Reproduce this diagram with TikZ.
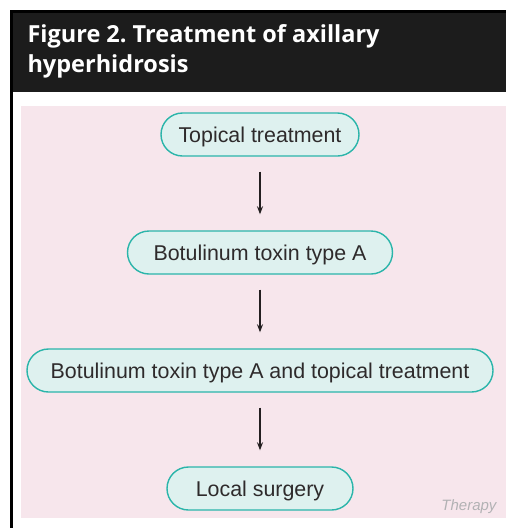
\documentclass[tikz,border=0pt]{standalone}
\usepackage{fontspec}
\setmainfont{Liberation Sans}
\newfontfamily\headfont{Open Sans}
\usepackage{tikz}
\usetikzlibrary{arrows.meta,positioning}
\frenchspacing
\definecolor{hdblack}{RGB}{28,28,28}
\definecolor{bgpink}{RGB}{247,230,236}
\definecolor{boxteal}{RGB}{43,181,170}
\definecolor{boxfill}{RGB}{222,241,239}
\definecolor{arrowdark}{RGB}{35,31,32}
\definecolor{markgray}{RGB}{178,178,180}
\tikzstyle{stepbox} = [draw=boxteal, line width=1.4pt, fill=boxfill, rounded corners=21.5pt,
  minimum height=43pt, inner sep=0pt, text height=15.5pt, text depth=0pt,
  font=\fontsize{21.4}{25}\selectfont, text=arrowdark!95]
\tikzstyle{arrow} = [line width=1.5pt,-{Stealth[length=8pt,width=6pt]},color=arrowdark,
  shorten >=16pt, shorten <=15pt]

\begin{document}
\begin{tikzpicture}[x=1pt, y=-1pt]
\useasboundingbox (0,0) rectangle (506,528);
% frame and title bar
\fill[hdblack] (10,10) rectangle (506,92);
\fill[black] (10,10) rectangle (506,12.5);
\fill[black] (10,10) rectangle (12.5,528);
\fill[bgpink] (21,106) rectangle (506,518);
\node[anchor=base west, text=white, font=\headfont\bfseries\fontsize{23.5}{30}\selectfont, align=left] (title) at (24,72)
  {Figure 2. Treatment of axillary\\hyperhidrosis};
% treatment steps
\node[stepbox, minimum width=198pt] (topical) at (260,134.5) {Topical treatment};
\node[stepbox, minimum width=265pt] (botox) at (260,252.5) {Botulinum toxin type A};
\node[stepbox, minimum width=466pt] (combined) at (260,370.5) {Botulinum toxin type A and topical treatment};
\node[stepbox, minimum width=186pt] (surgery) at (260,488.5) {Local surgery};
\draw[arrow] (topical) -- (botox);
\draw[arrow] (botox) -- (combined);
\draw[arrow] (combined) -- (surgery);
\node[anchor=base east, text=markgray, font=\itshape\fontsize{15}{18}\selectfont] (mark) at (500,510) {Therapy};
\end{tikzpicture}
\end{document}
